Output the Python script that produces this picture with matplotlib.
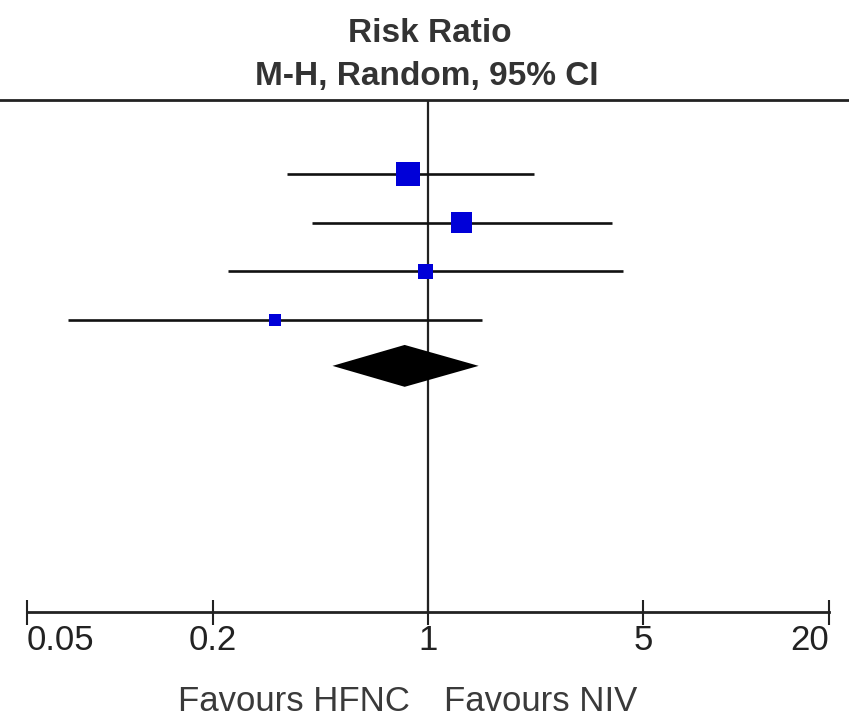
import numpy as np
import matplotlib
matplotlib.use("Agg")
import matplotlib.pyplot as plt

# study estimates (risk ratio, 95% CI), top to bottom
rr      = [0.86, 1.28, 0.98, 0.32]
ci_low  = [0.35, 0.42, 0.225, 0.068]
ci_high = [2.20, 3.94, 4.30, 1.50]
weights = [41.6, 31.8, 16.2, 10.4]   # % weight -> square area

# pooled estimate (diamond)
pooled_rr, pooled_low, pooled_high = 0.84, 0.49, 1.46

tick_vals   = [0.05, 0.2, 1, 5, 20]
tick_labels = ["0.05", "0.2", "1", "5", "20"]

plt.rcParams['font.family'] = ['Liberation Sans', 'DejaVu Sans']

W, H = 849, 718
fig = plt.figure(figsize=(W / 100, H / 100), dpi=100)
top_px, axis_px = 100, 612
ax = fig.add_axes([0, 1 - axis_px / H, 1, (axis_px - top_px) / H])

# x: log scale, 0.05 at px 27 and 20 at px 829
ppd = (829 - 27) / np.log10(20 / 0.05)
xmin = 10 ** (np.log10(0.05) - 27 / ppd)
xmax = 10 ** (np.log10(20) + (W - 829) / ppd)
ax.set_xscale('log')
ax.set_xlim(xmin, xmax)

# y: one unit per study row, row 0 at px 174
row_h = 48.7
ax.set_ylim((axis_px - 174) / row_h, (top_px - 174) / row_h)

rows = np.arange(len(rr))
ax.hlines(rows, ci_low, ci_high, color='#111111', lw=1.9, zorder=2)
side_pt = 3.72 * np.sqrt(weights) * 0.72
ax.scatter(rr, rows, s=side_pt ** 2, marker='s', color='#0000d8', zorder=3,
           linewidths=0)

d_row, d_half = 3.94, 0.43
ax.fill([pooled_low, pooled_rr, pooled_high, pooled_rr],
        [d_row, d_row - d_half, d_row, d_row + d_half],
        color='black', lw=0, zorder=3)

ax.axvline(1, color='#222222', lw=1.6, zorder=1)

for s in ['left', 'right']:
    ax.spines[s].set_visible(False)
ax.spines['top'].set_linewidth(2.0)
ax.spines['top'].set_color('#222222')
ax.spines['bottom'].set_linewidth(2.0)
ax.spines['bottom'].set_color('#222222')
ax.spines['bottom'].set_bounds(0.05, 20)

ax.set_yticks([])
ax.set_xticks(tick_vals)
ax.set_xticklabels(tick_labels)
ax.xaxis.set_minor_locator(matplotlib.ticker.NullLocator())
ax.tick_params(axis='x', direction='inout', length=18, width=1.5,
               color='#222222', labelsize=25, labelcolor='#222222', pad=0)
lbls = ax.get_xticklabels()
lbls[0].set_ha('left')
lbls[-1].set_ha('right')

fig.text(430 / W, 1 - 42 / H, "Risk Ratio", ha='center', va='baseline',
         fontsize=24, fontweight='bold', color='#333333')
fig.text(427 / W, 1 - 85 / H, "M-H, Random, 95% CI", ha='center', va='baseline',
         fontsize=24, fontweight='bold', color='#333333')

fig.text(410 / W, 1 - 711 / H, "Favours HFNC", ha='right', va='baseline',
         fontsize=25, color='#3a3a3a')
fig.text(444 / W, 1 - 711 / H, "Favours NIV", ha='left', va='baseline',
         fontsize=25, color='#3a3a3a')

fig.savefig("out.png", dpi=100)
